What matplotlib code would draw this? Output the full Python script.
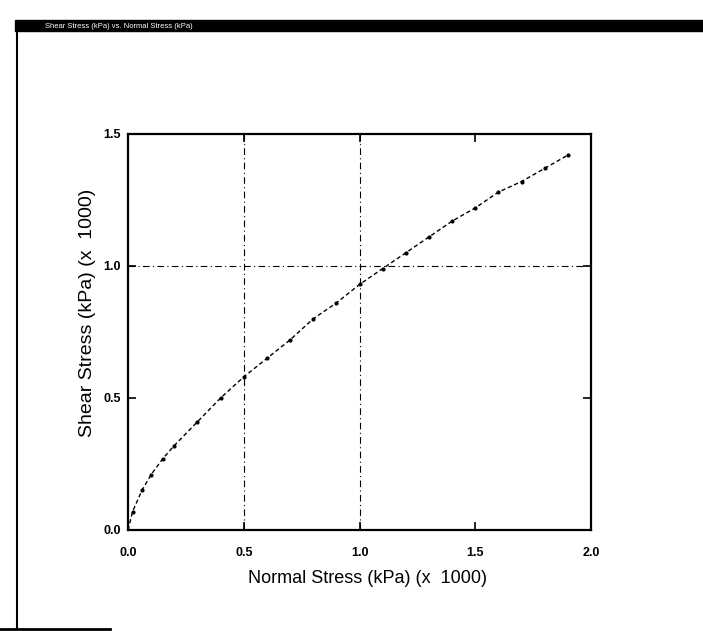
import matplotlib
matplotlib.use("Agg")
import matplotlib.pyplot as plt
from matplotlib.patches import Rectangle
from matplotlib.lines import Line2D

plt.rcParams['font.family'] = ['Liberation Sans', 'DejaVu Sans']

# Data (x 1000 kPa)
normal_stress = [0.0, 0.02, 0.06, 0.10, 0.15, 0.20, 0.30, 0.40, 0.50, 0.60, 0.70,
                 0.80, 0.90, 1.00, 1.10, 1.20, 1.30, 1.40, 1.50, 1.60, 1.70, 1.80, 1.90]
shear_stress = [0.0, 0.07, 0.15, 0.21, 0.27, 0.32, 0.41, 0.50, 0.58, 0.65, 0.72,
                0.80, 0.86, 0.93, 0.99, 1.05, 1.11, 1.17, 1.22, 1.28, 1.32, 1.37, 1.42]
x_ticks = [0.0, 0.5, 1.0, 1.5, 2.0]
y_ticks = [0.0, 0.5, 1.0, 1.5]
x_grid = [0.5, 1.0]
y_grid = [1.0]
window_title = "Shear Stress (kPa) vs. Normal Stress (kPa)"

fig = plt.figure(figsize=(7.03, 6.31), dpi=100)
fig.patch.set_facecolor("white")

# window frame (scanned screenshot look)
fig.patches.append(Rectangle((15/703, 1-31/631), (703-15)/703, 11/631,
                             transform=fig.transFigure, color="black", zorder=0))
fig.text(45/703, 1-26/631, window_title, color="white", fontsize=5.5,
         va="center", ha="left")
fig.lines.append(Line2D([17/703, 17/703], [1-31/631, 1-628/631],
                        transform=fig.transFigure, color="black", lw=1.5))
fig.lines.append(Line2D([0, 110/703], [1-629/631, 1-629/631],
                        transform=fig.transFigure, color="black", lw=2))

ax = fig.add_axes([128/703, 1-530/631, (591-128)/703, (530-134)/631])
ax.plot(normal_stress, shear_stress, color="black", lw=1.0,
        linestyle=(0, (3, 2)), marker="o", markersize=2, zorder=3)

for gx in x_grid:
    ax.axvline(gx, color="black", lw=0.8, linestyle=(0, (6, 3, 1, 3)), zorder=1)
for gy in y_grid:
    ax.axhline(gy, color="black", lw=0.8, linestyle=(0, (6, 3, 1, 3)), zorder=1)

ax.set_xlim(0, 2.0)
ax.set_ylim(0, 1.5)
ax.set_xticks(x_ticks)
ax.set_yticks(y_ticks)
ax.set_xticklabels([f"{t:.1f}" for t in x_ticks], fontsize=9, fontweight="bold")
ax.set_yticklabels([f"{t:.1f}" for t in y_ticks], fontsize=9, fontweight="bold")
ax.tick_params(direction="in", length=6, width=1.2, top=True, right=True)
ax.tick_params(axis="x", pad=12)
ax.tick_params(axis="y", pad=5)
for s in ax.spines.values():
    s.set_linewidth(1.6)

ax.set_xlabel("Normal Stress (kPa) (x  1000)", fontsize=13)
ax.set_ylabel("Shear Stress (kPa) (x  1000)", fontsize=14)
ax.xaxis.set_label_coords(0.518, -0.102)
ax.yaxis.set_label_coords(-0.07, 0.548)

fig.savefig("out.png", dpi=100)
